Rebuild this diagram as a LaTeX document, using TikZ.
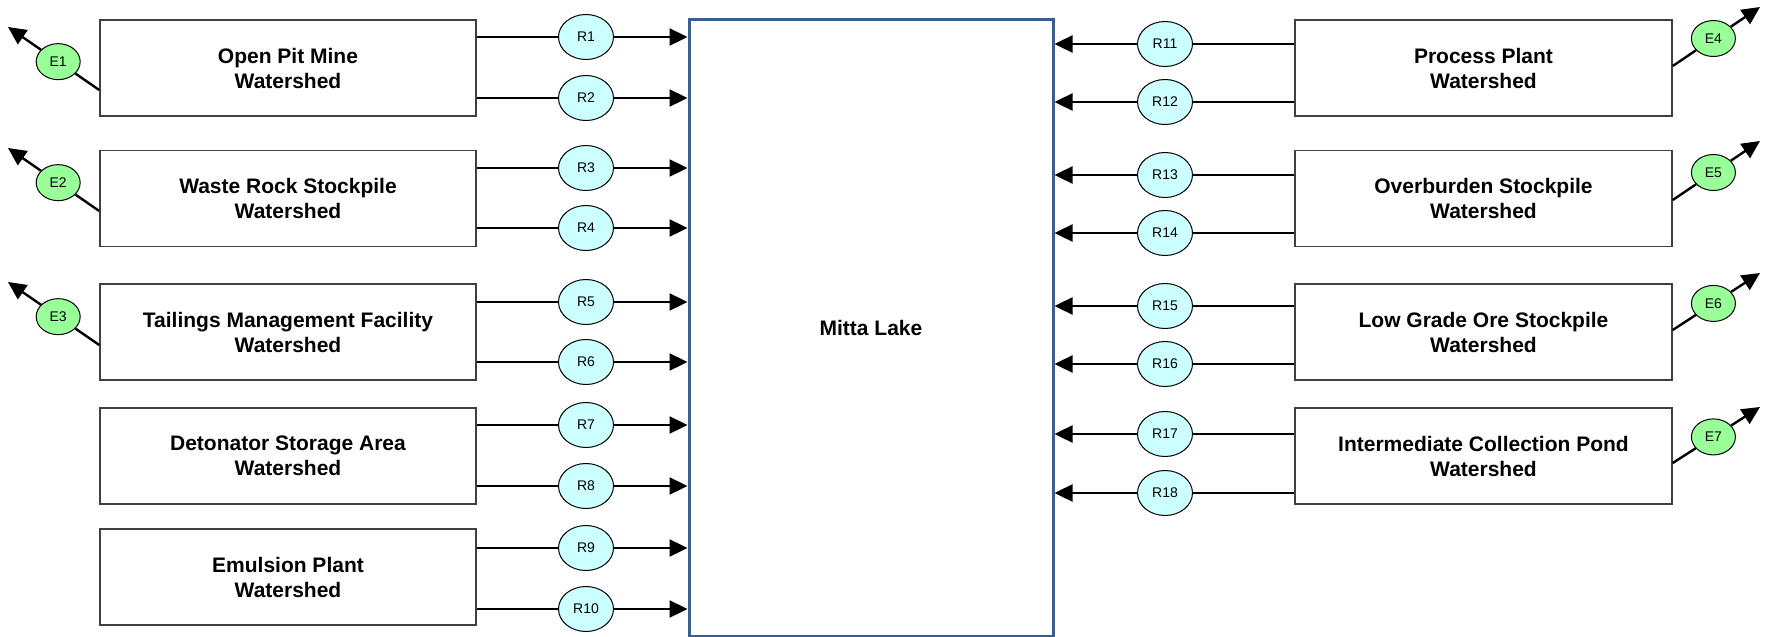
\documentclass[tikz,border=0pt]{standalone}
\usepackage{fontspec}
\setmainfont{Liberation Sans}
\usetikzlibrary{shapes.geometric,arrows.meta,calc}
\definecolor{lakeblue}{RGB}{58,95,139}
\definecolor{rfill}{RGB}{204,255,255}
\definecolor{efill}{RGB}{153,255,153}
\definecolor{boxline}{RGB}{64,64,64}
\begin{document}
\begin{tikzpicture}[x=0.5pt,y=-0.5pt,
  wbox/.style={draw=boxline, line width=0.75pt, fill=white, minimum width=188pt, minimum height=48pt,
    inner sep=0pt, align=center, font=\bfseries\fontsize{10.5}{12.5}\selectfont},
  lakebox/.style={draw=lakeblue, line width=1.5pt, fill=white, minimum width=182pt, minimum height=308.5pt,
    inner sep=0pt, font=\bfseries\fontsize{10.5}{12.5}\selectfont},
  rnode/.style={ellipse, draw=black, line width=0.5pt, fill=rfill, minimum width=27.5pt, minimum height=22.5pt,
    inner sep=0pt, font=\fontsize{7}{8}\selectfont},
  enode/.style={ellipse, draw=black, line width=0.5pt, fill=efill, minimum width=22pt, minimum height=18pt,
    inner sep=0pt, font=\fontsize{7}{8}\selectfont},
  conn/.style={draw=black, line width=1.2pt},
  flow/.style={conn, -{Triangle[length=9pt,width=8.5pt]}}
]
\useasboundingbox (0,0) rectangle (1769,637);

% central lake
\node[lakebox] (lake) at (871,327.5) {Mitta Lake};

% left watersheds
\node[wbox] (b1) at (288,68) {Open Pit Mine\\Watershed};
\node[wbox] (b2) at (288,198.5) {Waste Rock Stockpile\\Watershed};
\node[wbox] (b3) at (288,332) {Tailings Management Facility\\Watershed};
\node[wbox] (b4) at (288,456) {Detonator Storage Area\\Watershed};
\node[wbox] (b5) at (288,577) {Emulsion Plant\\Watershed};

% right watersheds
\node[wbox, minimum width=188.5pt] (c1) at (1483.5,68) {Process Plant\\Watershed};
\node[wbox, minimum width=188.5pt] (c2) at (1483.5,198.5) {Overburden Stockpile\\Watershed};
\node[wbox, minimum width=188.5pt] (c3) at (1483.5,332) {Low Grade Ore Stockpile\\Watershed};
\node[wbox, minimum width=188.5pt] (c4) at (1483.5,456) {Intermediate Collection Pond\\Watershed};

% left runoff nodes
\node[rnode] (r1) at (586,37) {R1};
\node[rnode] (r2) at (586,98) {R2};
\node[rnode] (r3) at (586,168) {R3};
\node[rnode] (r4) at (586,228) {R4};
\node[rnode] (r5) at (586,302) {R5};
\node[rnode] (r6) at (586,362) {R6};
\node[rnode] (r7) at (586,425) {R7};
\node[rnode] (r8) at (586,486) {R8};
\node[rnode] (r9) at (586,548) {R9};
\node[rnode] (r10) at (586,609) {R10};

% right runoff nodes
\node[rnode] (r11) at (1165,44) {R11};
\node[rnode] (r12) at (1165,102) {R12};
\node[rnode] (r13) at (1165,175) {R13};
\node[rnode] (r14) at (1165,233) {R14};
\node[rnode] (r15) at (1165,306) {R15};
\node[rnode] (r16) at (1165,364) {R16};
\node[rnode] (r17) at (1165,434) {R17};
\node[rnode] (r18) at (1165,493) {R18};

% left connectors
\foreach \r/\b in {r1/b1,r2/b1,r3/b2,r4/b2,r5/b3,r6/b3,r7/b4,r8/b4,r9/b5,r10/b5}{
  \draw[conn] (\b.east |- \r.center) -- (\r);
  \draw[flow] (\r) -- (lake.west |- \r.center);
}
% right connectors
\foreach \r/\b in {r11/c1,r12/c1,r13/c2,r14/c2,r15/c3,r16/c3,r17/c4,r18/c4}{
  \draw[conn] (\b.west |- \r.center) -- (\r);
  \draw[flow] (\r) -- (lake.east |- \r.center);
}

% evaporation nodes, left
\path ([yshift=-11pt]b1.west) coordinate (s1);
\path ([yshift=-6.25pt]b2.west) coordinate (s2);
\path ([yshift=-6.5pt]b3.west) coordinate (s3);
\coordinate (t1) at (8,27);
\coordinate (t2) at (8,148);
\coordinate (t3) at (8,282);
\node[enode] (e1) at ($(s1)!0.45!(t1)$) {E1};
\node[enode] (e2) at ($(s2)!0.45!(t2)$) {E2};
\node[enode] (e3) at ($(s3)!0.45!(t3)$) {E3};

% evaporation nodes, right
\path ([yshift=1pt]c1.east) coordinate (s4);
\path ([yshift=-0.75pt]c2.east) coordinate (s5);
\path ([yshift=1pt]c3.east) coordinate (s6);
\path ([yshift=-3.5pt]c4.east) coordinate (s7);
\coordinate (t4) at (1760,7);
\coordinate (t5) at (1760,141);
\coordinate (t6) at (1760,273);
\coordinate (t7) at (1760,407);
\node[enode] (e4) at ($(s4)!0.466!(t4)$) {E4};
\node[enode] (e5) at ($(s5)!0.466!(t5)$) {E5};
\node[enode] (e6) at ($(s6)!0.466!(t6)$) {E6};
\node[enode] (e7) at ($(s7)!0.466!(t7)$) {E7};

\foreach \i in {1,...,7}{
  \draw[conn] (s\i) -- (e\i);
  \draw[flow] (e\i) -- (t\i);
}
\end{tikzpicture}
\end{document}
